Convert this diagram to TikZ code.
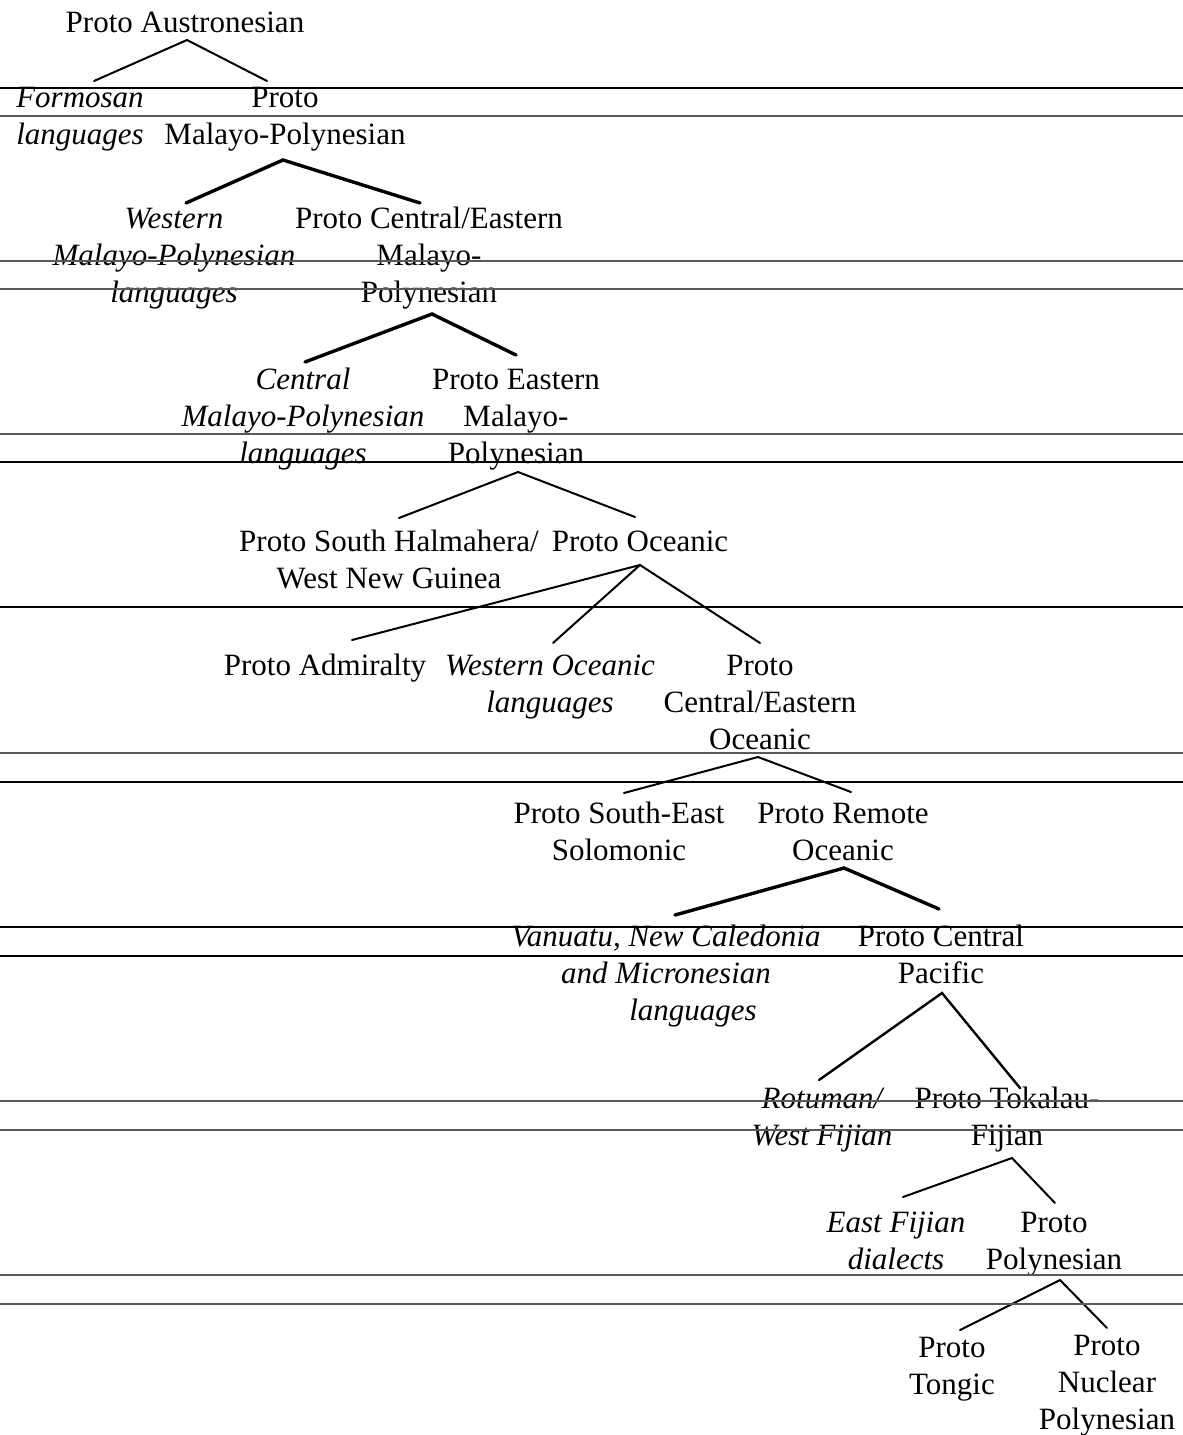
\documentclass[tikz,border=0pt]{standalone}
\usepackage{fontspec}
\setmainfont{Liberation Serif}
\begin{document}
\begin{tikzpicture}[x=1pt,y=-1pt,
  lang/.style={anchor=north,inner sep=0pt,align=center,
    font=\fontsize{31}{37}\selectfont},
  sub/.style={lang,font=\fontsize{31}{37}\selectfont\itshape},
  fork/.style={line width=2pt,line cap=round},
  heavy/.style={line width=3.4pt,line cap=round},
  rule/.style={line width=1.4pt,black},
  rulegray/.style={line width=1.4pt,black!65}]
\useasboundingbox[fill=white] (0,0) rectangle (1183,1435);

% language nodes
\node[lang] (root)   at (185,6.6)    {\strut Proto Austronesian};
\node[sub]  (form)   at (80,81.6)    {\strut Formosan\\languages};
\node[lang] (pmp)    at (285,81.6)   {\strut Proto\\Malayo-Polynesian};
\node[sub]  (wmp)    at (174,202.6)  {\strut Western\\Malayo-Polynesian\\languages};
\node[lang] (pcemp)  at (429,202.6)  {\strut Proto Central/Eastern\\Malayo-\\Polynesian};
\node[sub]  (cmp)    at (303,363.6)  {\strut Central\\Malayo-Polynesian\\languages};
\node[lang] (pemp)   at (516,363.6)  {\strut Proto Eastern\\Malayo-\\Polynesian};
\node[lang] (pshwng) at (389,525.6)  {\strut Proto South Halmahera/\\West New Guinea};
\node[lang] (poc)    at (640,525.6)  {\strut Proto Oceanic};
\node[lang] (padm)   at (325,649.6)  {\strut Proto Admiralty};
\node[sub]  (woc)    at (550,649.6)  {\strut Western Oceanic\\languages};
\node[lang] (pceoc)  at (760,649.6)  {\strut Proto\\Central/Eastern\\Oceanic};
\node[lang] (pseso)  at (619,797.6)  {\strut Proto South-East\\Solomonic};
\node[lang] (pro)    at (843,797.6)  {\strut Proto Remote\\Oceanic};
\node[sub]  (vnc)    at (666,920.6)  {\strut Vanuatu, New Caledonia\\and Micronesian\\\hspace*{54pt}languages};
\node[lang] (pcp)    at (941,920.6)  {\strut Proto Central\\Pacific};
\node[sub]  (rot)    at (822,1082.6) {\strut Rotuman/\\West Fijian};
\node[lang] (ptf)    at (1007,1082.6){\strut Proto Tokalau-\\Fijian};
\node[sub]  (efd)    at (896,1206.6) {\strut East Fijian\\dialects};
\node[lang] (ppn)    at (1054,1206.6){\strut Proto\\Polynesian};
\node[lang] (pto)    at (952,1331.6) {\strut Proto\\Tongic};
\node[lang] (pnp)    at (1107,1329.6){\strut Proto\\Nuclear\\Polynesian};

% branches
\draw[fork] ([xshift=14pt,yshift=0.6pt]form.north) -- ([xshift=2pt,yshift=-33.4pt]root.north)
            -- ([xshift=-18pt,yshift=0.6pt]pmp.north);
\draw[heavy] ([xshift=12pt,yshift=-0.4pt]wmp.north) -- ([xshift=-2pt,yshift=-78.4pt]pmp.north)
            -- ([xshift=-9pt,yshift=-0.4pt]pcemp.north);
\draw[heavy] ([xshift=2pt,yshift=1.6pt]cmp.north) -- ([xshift=3pt,yshift=-111.4pt]pcemp.north)
            -- ([xshift=0pt,yshift=8.6pt]pemp.north);
\draw[fork] ([xshift=10pt,yshift=7.6pt]pshwng.north) -- ([xshift=2pt,yshift=-108.4pt]pemp.north)
            -- ([xshift=-5pt,yshift=8.6pt]poc.north);
\draw[fork] ([xshift=27pt,yshift=9.6pt]padm.north) -- ([xshift=0pt,yshift=-39.4pt]poc.north);
\draw[fork] ([xshift=3pt,yshift=6.6pt]woc.north) -- ([xshift=0pt,yshift=-39.4pt]poc.north)
            -- ([xshift=0pt,yshift=6.6pt]pceoc.north);
\draw[fork] ([xshift=5pt,yshift=4.6pt]pseso.north) -- ([xshift=-2pt,yshift=-107.4pt]pceoc.north)
            -- ([xshift=8pt,yshift=5.6pt]pro.north);
\draw[heavy] ([xshift=9pt,yshift=5.6pt]vnc.north) -- ([xshift=1pt,yshift=-70.4pt]pro.north)
            -- ([xshift=-2pt,yshift=11.6pt]pcp.north);
\draw[fork,line width=2.4pt] ([xshift=-3pt,yshift=2.6pt]rot.north) -- ([xshift=1pt,yshift=-72.4pt]pcp.north)
            -- ([xshift=13pt,yshift=-5.4pt]ptf.north);
\draw[fork] ([xshift=7pt,yshift=9.6pt]efd.north) -- ([xshift=5pt,yshift=-75.4pt]ptf.north)
            -- ([xshift=1pt,yshift=3.6pt]ppn.north);
\draw[fork] ([xshift=8pt,yshift=1.6pt]pto.north) -- ([xshift=6pt,yshift=-73.4pt]ppn.north)
            -- ([xshift=0pt,yshift=1.6pt]pnp.north);

% ruled page lines
\draw[rule]     (0,88)   -- (1183,88);
\draw[rulegray] (0,116)  -- (1183,116);
\draw[rulegray] (0,261)  -- (1183,261);
\draw[rulegray] (0,289)  -- (1183,289);
\draw[rulegray] (0,434)  -- (1183,434);
\draw[rule]     (0,462)  -- (1183,462);
\draw[rule]     (0,607)  -- (1183,607);
\draw[rulegray] (0,753)  -- (1183,753);
\draw[rule]     (0,782)  -- (1183,782);
\draw[rule]     (0,927)  -- (1183,927);
\draw[rule]     (0,956)  -- (1183,956);
\draw[rulegray] (0,1101) -- (1183,1101);
\draw[rulegray] (0,1130) -- (1183,1130);
\draw[rulegray] (0,1275) -- (1183,1275);
\draw[rulegray] (0,1304) -- (1183,1304);
\end{tikzpicture}
\end{document}
